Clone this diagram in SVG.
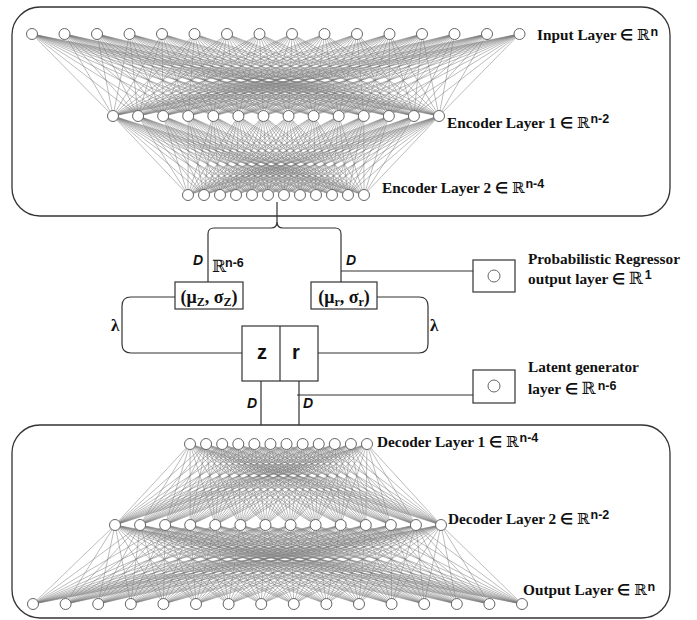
<svg xmlns="http://www.w3.org/2000/svg" xmlns:xlink="http://www.w3.org/1999/xlink" width="697" height="620" viewBox="0 0 697 620">
<style>
.frame{fill:none;stroke:#333;stroke-width:1.3}
.w{fill:none;stroke:#7a7a7a;stroke-width:0.6;stroke-opacity:0.85;vector-effect:non-scaling-stroke}
.n{fill:#fff;stroke:#666;stroke-width:1}
.ln{fill:none;stroke:#333;stroke-width:1.2}
.bx{fill:#fff;stroke:#333;stroke-width:1.2}
.lbl{font-family:"Liberation Serif","Times New Roman",serif;font-weight:bold;font-size:15.3px;fill:#111}
.bb{font-family:"DejaVu Serif","DejaVu Sans",serif;font-weight:normal}
.sup{font-family:"Liberation Sans",Arial,sans-serif;font-weight:bold;font-size:12.5px}
.d{font-family:"Liberation Sans",Arial,sans-serif;font-weight:bold;font-style:italic;font-size:14px;fill:#111}
.mu{font-family:"Liberation Serif","Times New Roman",serif;font-weight:bold;font-size:18px;fill:#111}
.sub{font-size:12px}
.lam{font-family:"Liberation Serif","Times New Roman",serif;font-weight:bold;font-size:17px;fill:#111}
.zr{font-family:"Liberation Sans",Arial,sans-serif;font-weight:bold;font-size:20px;fill:#111}
</style>
<defs>
<path id="fIE" class="w" vector-effect="non-scaling-stroke" d="M32 0L113 1M64.5 0L113 1M97 0L113 1M129.5 0L113 1M162 0L113 1M194.5 0L113 1M227 0L113 1M259.5 0L113 1M292 0L113 1M324.5 0L113 1M357 0L113 1M389.5 0L113 1M422 0L113 1M454.5 0L113 1M487 0L113 1M519.5 0L113 1"/>
<path id="fEE" class="w" vector-effect="non-scaling-stroke" d="M113 0L188 1M138.08 0L188 1M163.15 0L188 1M188.23 0L188 1M213.31 0L188 1M238.38 0L188 1M263.46 0L188 1M288.54 0L188 1M313.62 0L188 1M338.69 0L188 1M363.77 0L188 1M388.85 0L188 1M413.92 0L188 1M439 0L188 1"/>
<path id="fDD" class="w" vector-effect="non-scaling-stroke" d="M115 0L190 1M140.08 0L190 1M165.15 0L190 1M190.23 0L190 1M215.31 0L190 1M240.38 0L190 1M265.46 0L190 1M290.54 0L190 1M315.62 0L190 1M340.69 0L190 1M365.77 0L190 1M390.85 0L190 1M415.92 0L190 1M441 0L190 1"/>
<path id="fDO" class="w" vector-effect="non-scaling-stroke" d="M33 0L115 1M65.6 0L115 1M98.2 0L115 1M130.8 0L115 1M163.4 0L115 1M196 0L115 1M228.6 0L115 1M261.2 0L115 1M293.8 0L115 1M326.4 0L115 1M359 0L115 1M391.6 0L115 1M424.2 0L115 1M456.8 0L115 1M489.4 0L115 1M522 0L115 1"/>
</defs>
<rect width="697" height="620" fill="#fff"/>
<g id="encoder-frame"><rect class="frame" x="12" y="7" width="658" height="209" rx="28"/></g>
<g id="decoder-frame"><rect class="frame" x="12" y="425" width="658" height="193" rx="28"/></g>
<g id="connectors">
<g id="weights-input-enc1">
<use xlink:href="#fIE" transform="matrix(1 0 0 82 0 34)"/>
<use xlink:href="#fIE" transform="matrix(1 0 25.08 82 0 34)"/>
<use xlink:href="#fIE" transform="matrix(1 0 50.15 82 0 34)"/>
<use xlink:href="#fIE" transform="matrix(1 0 75.23 82 0 34)"/>
<use xlink:href="#fIE" transform="matrix(1 0 100.31 82 0 34)"/>
<use xlink:href="#fIE" transform="matrix(1 0 125.38 82 0 34)"/>
<use xlink:href="#fIE" transform="matrix(1 0 150.46 82 0 34)"/>
<use xlink:href="#fIE" transform="matrix(1 0 175.54 82 0 34)"/>
<use xlink:href="#fIE" transform="matrix(1 0 200.62 82 0 34)"/>
<use xlink:href="#fIE" transform="matrix(1 0 225.69 82 0 34)"/>
<use xlink:href="#fIE" transform="matrix(1 0 250.77 82 0 34)"/>
<use xlink:href="#fIE" transform="matrix(1 0 275.85 82 0 34)"/>
<use xlink:href="#fIE" transform="matrix(1 0 300.92 82 0 34)"/>
<use xlink:href="#fIE" transform="matrix(1 0 326 82 0 34)"/>
</g>
<g id="weights-enc1-enc2">
<use xlink:href="#fEE" transform="matrix(1 0 0 79 0 116)"/>
<use xlink:href="#fEE" transform="matrix(1 0 16 79 0 116)"/>
<use xlink:href="#fEE" transform="matrix(1 0 32 79 0 116)"/>
<use xlink:href="#fEE" transform="matrix(1 0 48 79 0 116)"/>
<use xlink:href="#fEE" transform="matrix(1 0 64 79 0 116)"/>
<use xlink:href="#fEE" transform="matrix(1 0 80 79 0 116)"/>
<use xlink:href="#fEE" transform="matrix(1 0 96 79 0 116)"/>
<use xlink:href="#fEE" transform="matrix(1 0 112 79 0 116)"/>
<use xlink:href="#fEE" transform="matrix(1 0 128 79 0 116)"/>
<use xlink:href="#fEE" transform="matrix(1 0 144 79 0 116)"/>
<use xlink:href="#fEE" transform="matrix(1 0 160 79 0 116)"/>
<use xlink:href="#fEE" transform="matrix(1 0 176 79 0 116)"/>
</g>
<g id="weights-dec1-dec2">
<use xlink:href="#fDD" transform="matrix(1 0 0 -81 0 525)"/>
<use xlink:href="#fDD" transform="matrix(1 0 16.09 -81 0 525)"/>
<use xlink:href="#fDD" transform="matrix(1 0 32.18 -81 0 525)"/>
<use xlink:href="#fDD" transform="matrix(1 0 48.27 -81 0 525)"/>
<use xlink:href="#fDD" transform="matrix(1 0 64.36 -81 0 525)"/>
<use xlink:href="#fDD" transform="matrix(1 0 80.45 -81 0 525)"/>
<use xlink:href="#fDD" transform="matrix(1 0 96.54 -81 0 525)"/>
<use xlink:href="#fDD" transform="matrix(1 0 112.63 -81 0 525)"/>
<use xlink:href="#fDD" transform="matrix(1 0 128.72 -81 0 525)"/>
<use xlink:href="#fDD" transform="matrix(1 0 144.81 -81 0 525)"/>
<use xlink:href="#fDD" transform="matrix(1 0 160.9 -81 0 525)"/>
<use xlink:href="#fDD" transform="matrix(1 0 177 -81 0 525)"/>
</g>
<g id="weights-dec2-output">
<use xlink:href="#fDO" transform="matrix(1 0 0 -79 0 604)"/>
<use xlink:href="#fDO" transform="matrix(1 0 25.08 -79 0 604)"/>
<use xlink:href="#fDO" transform="matrix(1 0 50.15 -79 0 604)"/>
<use xlink:href="#fDO" transform="matrix(1 0 75.23 -79 0 604)"/>
<use xlink:href="#fDO" transform="matrix(1 0 100.31 -79 0 604)"/>
<use xlink:href="#fDO" transform="matrix(1 0 125.38 -79 0 604)"/>
<use xlink:href="#fDO" transform="matrix(1 0 150.46 -79 0 604)"/>
<use xlink:href="#fDO" transform="matrix(1 0 175.54 -79 0 604)"/>
<use xlink:href="#fDO" transform="matrix(1 0 200.62 -79 0 604)"/>
<use xlink:href="#fDO" transform="matrix(1 0 225.69 -79 0 604)"/>
<use xlink:href="#fDO" transform="matrix(1 0 250.77 -79 0 604)"/>
<use xlink:href="#fDO" transform="matrix(1 0 275.85 -79 0 604)"/>
<use xlink:href="#fDO" transform="matrix(1 0 300.92 -79 0 604)"/>
<use xlink:href="#fDO" transform="matrix(1 0 326 -79 0 604)"/>
</g>
<g id="flow-lines">
<path class="ln" d="M277 202V222Q277 228 271 228H214Q208 228 208 234V282"/>
<path class="ln" d="M277 222Q277 228 283 228H335Q341 228 341 234V282"/>
<path class="ln" d="M341 271H473"/>
<path class="ln" d="M175 297H131Q122 297 122 306V344Q122 353 131 353H242"/>
<path class="ln" d="M377 297H419Q428 297 428 306V344Q428 353 419 353H318"/>
<path class="ln" d="M261 381V425M299 381V425"/>
<path class="ln" d="M297 395H473"/>
</g>
<g id="connector-labels">
<text class="d" x="193" y="265">D</text>
<text class="lbl" x="212" y="272"><tspan class="bb" font-size="17">ℝ</tspan></text>
<text class="sup" x="225" y="267" font-size="13" fill="#111">n-6</text>
<text class="d" x="346" y="265">D</text>
<text class="lam" x="111" y="331">λ</text>
<text class="lam" x="430" y="331">λ</text>
<text class="d" x="247" y="408">D</text>
<text class="d" x="303" y="408">D</text>
</g>
</g>
<g id="input-layer">
<circle class="n" cx="32" cy="34" r="5.5"/><circle class="n" cx="64.5" cy="34" r="5.5"/><circle class="n" cx="97" cy="34" r="5.5"/><circle class="n" cx="129.5" cy="34" r="5.5"/><circle class="n" cx="162" cy="34" r="5.5"/><circle class="n" cx="194.5" cy="34" r="5.5"/><circle class="n" cx="227" cy="34" r="5.5"/><circle class="n" cx="259.5" cy="34" r="5.5"/><circle class="n" cx="292" cy="34" r="5.5"/><circle class="n" cx="324.5" cy="34" r="5.5"/><circle class="n" cx="357" cy="34" r="5.5"/><circle class="n" cx="389.5" cy="34" r="5.5"/><circle class="n" cx="422" cy="34" r="5.5"/><circle class="n" cx="454.5" cy="34" r="5.5"/><circle class="n" cx="487" cy="34" r="5.5"/><circle class="n" cx="519.5" cy="34" r="5.5"/>
<text class="lbl" x="537" y="40">Input Layer ∈ <tspan class="bb">ℝ</tspan><tspan class="sup" dx="1" dy="-4">n</tspan></text>
</g>
<g id="encoder-layer-1">
<circle class="n" cx="113" cy="116" r="5.5"/><circle class="n" cx="138.08" cy="116" r="5.5"/><circle class="n" cx="163.15" cy="116" r="5.5"/><circle class="n" cx="188.23" cy="116" r="5.5"/><circle class="n" cx="213.31" cy="116" r="5.5"/><circle class="n" cx="238.38" cy="116" r="5.5"/><circle class="n" cx="263.46" cy="116" r="5.5"/><circle class="n" cx="288.54" cy="116" r="5.5"/><circle class="n" cx="313.62" cy="116" r="5.5"/><circle class="n" cx="338.69" cy="116" r="5.5"/><circle class="n" cx="363.77" cy="116" r="5.5"/><circle class="n" cx="388.85" cy="116" r="5.5"/><circle class="n" cx="413.92" cy="116" r="5.5"/><circle class="n" cx="439" cy="116" r="5.5"/>
<text class="lbl" x="447" y="128">Encoder Layer 1 ∈ <tspan class="bb">ℝ</tspan><tspan class="sup" dx="1" dy="-5">n-2</tspan></text>
</g>
<g id="encoder-layer-2">
<circle class="n" cx="188" cy="195" r="5.5"/><circle class="n" cx="204" cy="195" r="5.5"/><circle class="n" cx="220" cy="195" r="5.5"/><circle class="n" cx="236" cy="195" r="5.5"/><circle class="n" cx="252" cy="195" r="5.5"/><circle class="n" cx="268" cy="195" r="5.5"/><circle class="n" cx="284" cy="195" r="5.5"/><circle class="n" cx="300" cy="195" r="5.5"/><circle class="n" cx="316" cy="195" r="5.5"/><circle class="n" cx="332" cy="195" r="5.5"/><circle class="n" cx="348" cy="195" r="5.5"/><circle class="n" cx="364" cy="195" r="5.5"/>
<text class="lbl" x="382" y="193">Encoder Layer 2 ∈ <tspan class="bb">ℝ</tspan><tspan class="sup" dx="1" dy="-5">n-4</tspan></text>
</g>
<g id="mu-sigma-z">
<rect class="bx" x="175" y="282" width="68" height="27"/>
<text class="mu" x="209" y="303" text-anchor="middle">(μ<tspan class="sub" dy="3">Z</tspan><tspan dy="-3">, σ</tspan><tspan class="sub" dy="3">Z</tspan><tspan dy="-3">)</tspan></text>
</g>
<g id="mu-sigma-r">
<rect class="bx" x="311" y="282" width="66" height="27"/>
<text class="mu" x="344" y="303" text-anchor="middle">(μ<tspan class="sub" dy="3">r</tspan><tspan dy="-3">, σ</tspan><tspan class="sub" dy="3">r</tspan><tspan dy="-3">)</tspan></text>
</g>
<g id="latent-zr">
<rect class="bx" x="242" y="326" width="76" height="55"/>
<path class="ln" d="M280 326V381"/>
<text class="zr" x="262" y="359" text-anchor="middle">z</text>
<text class="zr" x="296" y="359" text-anchor="middle">r</text>
</g>
<g id="probabilistic-regressor">
<rect class="bx" x="473" y="260" width="42" height="32"/>
<circle class="n" cx="494" cy="276" r="6"/>
<text class="lbl" x="528" y="264">Probabilistic Regressor</text>
<text class="lbl" x="528" y="284">output layer ∈ <tspan class="bb" font-size="17">ℝ</tspan><tspan class="sup" font-size="13" dx="2" dy="-5">1</tspan></text>
</g>
<g id="latent-generator">
<rect class="bx" x="473" y="370" width="42" height="33"/>
<circle class="n" cx="494" cy="386" r="6"/>
<text class="lbl" x="528" y="372">Latent generator</text>
<text class="lbl" x="528" y="394">layer ∈ <tspan class="bb" font-size="17">ℝ</tspan><tspan class="sup" font-size="13" dx="2" dy="-4">n-6</tspan></text>
</g>
<g id="decoder-layer-1">
<circle class="n" cx="190" cy="444" r="5.5"/><circle class="n" cx="206.09" cy="444" r="5.5"/><circle class="n" cx="222.18" cy="444" r="5.5"/><circle class="n" cx="238.27" cy="444" r="5.5"/><circle class="n" cx="254.36" cy="444" r="5.5"/><circle class="n" cx="270.45" cy="444" r="5.5"/><circle class="n" cx="286.54" cy="444" r="5.5"/><circle class="n" cx="302.63" cy="444" r="5.5"/><circle class="n" cx="318.72" cy="444" r="5.5"/><circle class="n" cx="334.81" cy="444" r="5.5"/><circle class="n" cx="350.9" cy="444" r="5.5"/><circle class="n" cx="367" cy="444" r="5.5"/>
<text class="lbl" x="377" y="447">Decoder Layer 1 ∈ <tspan class="bb">ℝ</tspan><tspan class="sup" dx="1" dy="-5">n-4</tspan></text>
</g>
<g id="decoder-layer-2">
<circle class="n" cx="115" cy="525" r="5.5"/><circle class="n" cx="140.08" cy="525" r="5.5"/><circle class="n" cx="165.15" cy="525" r="5.5"/><circle class="n" cx="190.23" cy="525" r="5.5"/><circle class="n" cx="215.31" cy="525" r="5.5"/><circle class="n" cx="240.38" cy="525" r="5.5"/><circle class="n" cx="265.46" cy="525" r="5.5"/><circle class="n" cx="290.54" cy="525" r="5.5"/><circle class="n" cx="315.62" cy="525" r="5.5"/><circle class="n" cx="340.69" cy="525" r="5.5"/><circle class="n" cx="365.77" cy="525" r="5.5"/><circle class="n" cx="390.85" cy="525" r="5.5"/><circle class="n" cx="415.92" cy="525" r="5.5"/><circle class="n" cx="441" cy="525" r="5.5"/>
<text class="lbl" x="448" y="524">Decoder Layer 2 ∈ <tspan class="bb">ℝ</tspan><tspan class="sup" dx="1" dy="-5">n-2</tspan></text>
</g>
<g id="output-layer">
<circle class="n" cx="33" cy="604" r="5.5"/><circle class="n" cx="65.6" cy="604" r="5.5"/><circle class="n" cx="98.2" cy="604" r="5.5"/><circle class="n" cx="130.8" cy="604" r="5.5"/><circle class="n" cx="163.4" cy="604" r="5.5"/><circle class="n" cx="196" cy="604" r="5.5"/><circle class="n" cx="228.6" cy="604" r="5.5"/><circle class="n" cx="261.2" cy="604" r="5.5"/><circle class="n" cx="293.8" cy="604" r="5.5"/><circle class="n" cx="326.4" cy="604" r="5.5"/><circle class="n" cx="359" cy="604" r="5.5"/><circle class="n" cx="391.6" cy="604" r="5.5"/><circle class="n" cx="424.2" cy="604" r="5.5"/><circle class="n" cx="456.8" cy="604" r="5.5"/><circle class="n" cx="489.4" cy="604" r="5.5"/><circle class="n" cx="522" cy="604" r="5.5"/>
<text class="lbl" x="523" y="595">Output Layer ∈ <tspan class="bb">ℝ</tspan><tspan class="sup" dx="1" dy="-4">n</tspan></text>
</g>
</svg>
